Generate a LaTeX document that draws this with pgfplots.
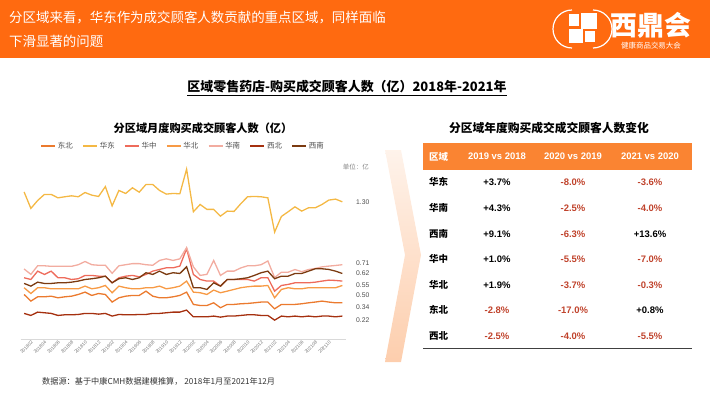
\documentclass[border=0pt]{standalone}
\usepackage{pgfplots}
\pgfplotsset{compat=1.18}
\usepackage{pgfplotstable}
\usepackage{fontspec}
\setmainfont{Liberation Sans}
\newfontfamily\cjk{Noto Sans CJK SC}
\definecolor{hdr}{HTML}{FF6A10}
\definecolor{tbl}{HTML}{FA8432}
\definecolor{neg}{HTML}{C0432C}
\definecolor{cDB}{HTML}{EB7A2E}
\definecolor{cHD}{HTML}{F4B844}
\definecolor{cHZ}{HTML}{EE6B5B}
\definecolor{cHB}{HTML}{F79A45}
\definecolor{cHN}{HTML}{F2ACA0}
\definecolor{cXB}{HTML}{A5300F}
\definecolor{cXN}{HTML}{7B3A10}
\pgfplotstableread{
i HD HN HZ XN HB DB XB
0 1.380 0.660 0.578 0.525 0.485 0.422 0.245
1 1.226 0.610 0.562 0.500 0.431 0.360 0.226
2 1.300 0.690 0.640 0.537 0.485 0.400 0.257
3 1.357 0.690 0.609 0.525 0.485 0.400 0.251
4 1.357 0.685 0.640 0.525 0.475 0.406 0.245
5 1.325 0.685 0.578 0.531 0.475 0.391 0.226
6 1.335 0.685 0.578 0.531 0.475 0.400 0.232
7 1.344 0.685 0.562 0.537 0.475 0.406 0.232
8 1.335 0.700 0.569 0.547 0.475 0.422 0.235
9 1.375 0.730 0.600 0.562 0.500 0.444 0.245
10 1.350 0.700 0.600 0.569 0.475 0.413 0.245
11 1.338 0.695 0.593 0.578 0.485 0.431 0.238
12 1.430 0.695 0.593 0.593 0.506 0.422 0.245
13 1.250 0.620 0.531 0.531 0.438 0.351 0.220
14 1.394 0.690 0.578 0.569 0.500 0.391 0.235
15 1.366 0.700 0.593 0.578 0.485 0.406 0.232
16 1.419 0.710 0.600 0.562 0.475 0.413 0.232
17 1.378 0.710 0.587 0.578 0.475 0.413 0.235
18 1.450 0.700 0.609 0.625 0.485 0.453 0.235
19 1.450 0.695 0.640 0.609 0.485 0.406 0.245
20 1.394 0.740 0.656 0.640 0.500 0.391 0.245
21 1.360 0.755 0.671 0.609 0.475 0.391 0.251
22 1.366 0.740 0.671 0.625 0.485 0.400 0.257
23 1.363 0.755 0.687 0.618 0.500 0.413 0.257
24 1.593 0.860 0.850 0.681 0.547 0.444 0.276
25 1.195 0.680 0.609 0.485 0.444 0.329 0.213
26 1.263 0.600 0.562 0.485 0.438 0.319 0.213
27 1.217 0.610 0.547 0.469 0.422 0.319 0.213
28 1.217 0.740 0.547 0.531 0.463 0.344 0.220
29 1.154 0.600 0.500 0.500 0.438 0.298 0.210
30 1.201 0.640 0.562 0.562 0.453 0.329 0.220
31 1.198 0.640 0.562 0.562 0.469 0.329 0.220
32 1.270 0.670 0.562 0.569 0.485 0.335 0.226
33 1.335 0.690 0.562 0.578 0.494 0.338 0.232
34 1.338 0.690 0.547 0.600 0.500 0.344 0.232
35 1.335 0.700 0.578 0.625 0.500 0.351 0.226
36 1.325 0.735 0.578 0.640 0.506 0.351 0.226
37 1.005 0.580 0.453 0.569 0.391 0.288 0.182
38 1.151 0.630 0.506 0.593 0.469 0.329 0.220
39 1.195 0.630 0.516 0.593 0.485 0.329 0.213
40 1.241 0.655 0.531 0.618 0.475 0.329 0.220
41 1.201 0.635 0.531 0.618 0.475 0.335 0.213
42 1.232 0.655 0.531 0.640 0.485 0.344 0.220
43 1.232 0.665 0.537 0.662 0.485 0.351 0.213
44 1.263 0.680 0.547 0.662 0.485 0.360 0.220
45 1.304 0.687 0.556 0.656 0.485 0.351 0.220
46 1.313 0.693 0.553 0.640 0.485 0.344 0.213
47 1.288 0.700 0.547 0.618 0.506 0.344 0.220
}\regdata
\begin{document}
\begin{tikzpicture}[x=1bp,y=1bp]
\useasboundingbox (0,0) rectangle (710,399);
% header
\fill[hdr] (0,341) rectangle (710,399);
\node[anchor=west,text=white,font=\cjk\fontsize{13.5}{16}\selectfont,inner sep=0] at (9,381) {分区域来看，华东作为成交顾客人数贡献的重点区域，同样面临};
\node[anchor=west,text=white,font=\cjk\fontsize{13.5}{16}\selectfont,inner sep=0] at (9,358) {下滑显著的问题};
% logo
\begin{scope}[white]
\fill (569,373) rectangle (579,385);
\fill (581,370) rectangle (597,386);
\fill (569,356) rectangle (583,370);
\fill (585,357) rectangle (595,368);
\draw[line width=1.2pt] (572,389) arc[start angle=90,end angle=270,radius=19] ;
\draw[line width=1.2pt] (593,389) arc[start angle=90,end angle=-90,radius=19] ;
\end{scope}
\node[text=white,font=\cjk\bfseries\fontsize{27}{29}\selectfont,inner sep=0] at (651,374) {西鼎会};
\node[text=white,font=\cjk\fontsize{7.5}{8}\selectfont,inner sep=0] at (651,353) {健康商品交易大会};
% subtitle
\node[font=\cjk\bfseries\fontsize{13}{15}\selectfont,inner sep=0] at (347,311) {\underline{区域零售药店-购买成交顾客人数（亿）2018年-2021年}};
\node[font=\cjk\bfseries\fontsize{11.2}{12}\selectfont,inner sep=0] at (203,271) {分区域月度购买成交顾客人数（亿）};
\node[font=\cjk\bfseries\fontsize{11.8}{13}\selectfont,inner sep=0] at (549,271) {分区域年度购买成交成交顾客人数变化};
\node[anchor=east,font=\cjk\fontsize{6.5}{7}\selectfont,text=gray,inner sep=0] at (369,232) {单位：亿};
% chevron
\shade[top color=tbl!10,bottom color=tbl!40,draw=none] (385,249) -- (401,249) -- (421,144) -- (401,37) -- (385,37) -- (405,144) -- cycle;
% chart
\begin{axis}[at={(30.6,55.5)},anchor=south west,scale only axis,width=325bp,height=181.9bp,
  xmin=-0.5,xmax=47.5,ymin=0,ymax=1.7,
  axis y line=none,ytick=\empty,
  axis x line*=bottom,x axis line style={draw=black!15,line width=0.8pt,-},
  xtick={1,3,...,45},
  xticklabels={201802,201804,201806,201808,201810,201812,201902,201904,201906,201908,201910,201912,202002,202004,202006,202008,202010,202012,202102,202104,202106,202108,202110},
  xticklabel style={rotate=45,anchor=north east,font=\fontsize{4.7}{5}\selectfont,text=black!55,inner sep=0.5pt},
  major tick length=0,
  legend columns=7,
  legend style={at={(0.5,1.064)},anchor=center,draw=none,fill=none,font=\cjk\fontsize{7.5}{8}\selectfont,text=black!70,
    /tikz/every even column/.append style={column sep=7.5bp}},
  legend image code/.code={\draw[#1,line width=1.4pt] (0bp,0bp) -- (14bp,0bp);},
  every axis plot/.append style={line width=1.3bp,mark=none},
]
\addplot[cDB] table[x=i,y=DB]{\regdata};
\addlegendentry{东北}
\addplot[cHD] table[x=i,y=HD]{\regdata};
\addlegendentry{华东}
\addplot[cHZ] table[x=i,y=HZ]{\regdata};
\addlegendentry{华中}
\addplot[cHB] table[x=i,y=HB]{\regdata};
\addlegendentry{华北}
\addplot[cHN] table[x=i,y=HN]{\regdata};
\addlegendentry{华南}
\addplot[cXB] table[x=i,y=XB]{\regdata};
\addlegendentry{西北}
\addplot[cXN] table[x=i,y=XN]{\regdata};
\addlegendentry{西南}
\end{axis}
% end labels
\begin{scope}[every node/.style={anchor=west,font=\fontsize{6.8}{7}\selectfont,text=black!70,inner sep=0}]
\node at (356,197) {1.30};
\node at (356,136) {0.71};
\node at (356,126) {0.62};
\node at (356,114) {0.55};
\node at (356,104) {0.50};
\node at (356,92) {0.34};
\node at (356,79) {0.22};
\end{scope}
\node[anchor=west,font=\cjk\fontsize{8.2}{9}\selectfont,text=black!80,inner sep=0] at (42,18) {数据源：基于中康CMH数据建模推算， 2018年1月至2021年12月};
% table
\fill[tbl] (423,229) rectangle (692,256);
\begin{scope}[every node/.style={font=\bfseries\fontsize{9.5}{10}\selectfont,text=white,inner sep=0}]
\node[anchor=west,font=\cjk\bfseries\fontsize{9.5}{10}\selectfont] at (429,242.5) {区域};
\node at (497,242.5) {2019 vs 2018};
\node at (573,242.5) {2020 vs 2019};
\node at (650,242.5) {2021 vs 2020};
\end{scope}
\begin{scope}[every node/.style={font=\bfseries\fontsize{9.5}{10}\selectfont,inner sep=0}]
\foreach \r/\y/\a/\ac/\b/\bc/\c/\cc in {
  华东/217/+3.7\%/black/-8.0\%/neg/-3.6\%/neg,
  华南/191/+4.3\%/black/-2.5\%/neg/-4.0\%/neg,
  西南/165/+9.1\%/black/-6.3\%/neg/+13.6\%/black,
  华中/140/+1.0\%/black/-5.5\%/neg/-7.0\%/neg,
  华北/114/+1.9\%/black/-3.7\%/neg/-0.3\%/neg,
  东北/89/-2.8\%/neg/-17.0\%/neg/+0.8\%/black,
  西北/63/-2.5\%/neg/-4.0\%/neg/-5.5\%/neg}{
  \node[anchor=west,font=\cjk\bfseries\fontsize{9.5}{10}\selectfont] at (429,\y) {\r};
  \node[text=\ac] at (497,\y) {\a};
  \node[text=\bc] at (573,\y) {\b};
  \node[text=\cc] at (650,\y) {\c};
}
\end{scope}
\draw[black!75,line width=1pt] (423,51) -- (692,51);
\end{tikzpicture}
\end{document}
